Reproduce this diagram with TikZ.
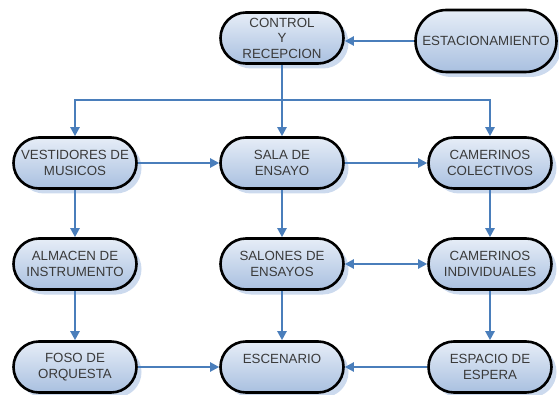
\documentclass[tikz,border=0pt]{standalone}
\usepackage{fontspec}
\setmainfont{Liberation Sans}
\usetikzlibrary{arrows.meta,shadows}
\definecolor{lineblue}{HTML}{4A7EBB}
\definecolor{boxtop}{HTML}{E6EDF7}
\definecolor{boxbot}{HTML}{A9C0E0}
\definecolor{shadowblue}{HTML}{CCDAEE}
\definecolor{txt}{HTML}{3A3A3A}
\begin{document}
\begin{tikzpicture}[x=1pt,y=-1pt,
 box/.style={rectangle, rounded corners=25.5pt, draw=black, line width=2.6pt,
   top color=boxtop, bottom color=boxbot, minimum width=123pt, minimum height=51pt,
   inner sep=0pt, align=center, text=txt, font=\fontsize{13.3}{15.5}\selectfont,
   drop shadow={fill=shadowblue, opacity=1, shadow xshift=5pt, shadow yshift=-5pt}},
 link/.style={draw=lineblue, line width=2.2pt},
 conn/.style={link, -{Triangle[length=9pt,width=9pt]}},
 dconn/.style={link, {Triangle[length=9pt,width=9pt]}-{Triangle[length=9pt,width=9pt]}},
]
\useasboundingbox (0,0) rectangle (559,395);

\node[box] (ctrl) at (282,38) {CONTROL\\Y\\RECEPCION};
\node[box, minimum width=141pt, minimum height=62pt, rounded corners=31pt] (est) at (486,41) {ESTACIONAMIENTO};

\node[box] (vest) at (75,163) {VESTIDORES DE\\MUSICOS};
\node[box] (sala) at (282,163) {SALA DE\\ENSAYO};
\node[box] (col)  at (490,163) {CAMERINOS\\COLECTIVOS};

\node[box] (alm)  at (75,264) {ALMACEN DE\\INSTRUMENTO};
\node[box] (salo) at (282,264) {SALONES DE\\ENSAYOS};
\node[box] (ind)  at (490,264) {CAMERINOS\\INDIVIDUALES};

\node[box] (foso) at (75,367) {FOSO DE\\ORQUESTA};
\node[box] (esc)  at (282,367) {ESCENARIO\\\phantom{X}};
\node[box] (esp)  at (490,367) {ESPACIO DE\\ESPERA};

\coordinate (bj) at (282,100);

\draw[conn] (est.west) -- (est.west -| ctrl.east);
\draw[conn] (ctrl.south) -- (sala.north);
\draw[conn] (bj) -| (vest.north);
\draw[conn] (bj) -| (col.north);

\draw[conn] (vest.east) -- (sala.west);
\draw[conn] (sala.east) -- (col.west);

\draw[conn] (vest.south) -- (alm.north);
\draw[conn] (sala.south) -- (salo.north);
\draw[conn] (col.south) -- (ind.north);
\draw[dconn] (salo.east) -- (ind.west);

\draw[conn] (alm.south) -- (foso.north);
\draw[conn] (salo.south) -- (esc.north);
\draw[conn] (ind.south) -- (esp.north);
\draw[conn] (foso.east) -- (esc.west);
\draw[conn] (esp.west) -- (esc.east);
\end{tikzpicture}
\end{document}
